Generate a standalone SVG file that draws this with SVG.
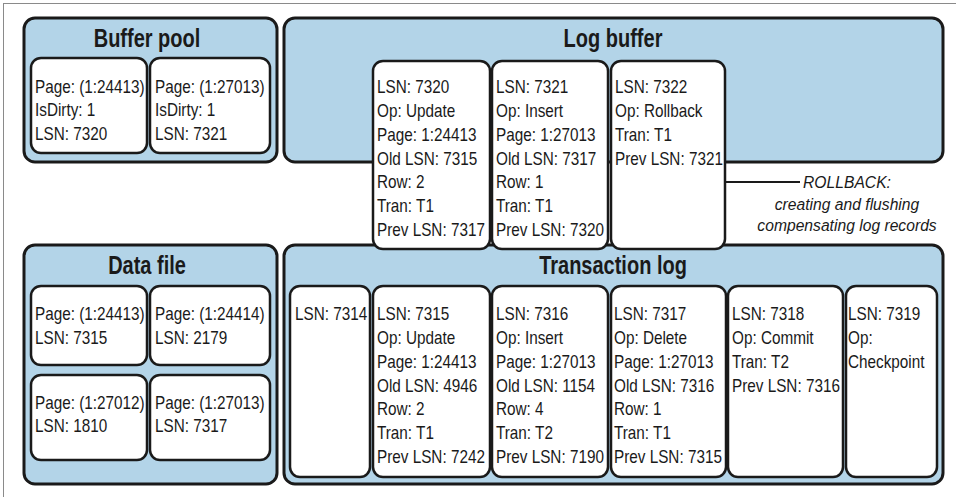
<svg xmlns="http://www.w3.org/2000/svg" width="956" height="497" viewBox="0 0 956 497">
<style>
.frame{fill:none;stroke:#8a8a8a;stroke-width:1}
.panel{fill:#b3d4e8;stroke:#1a1a1a;stroke-width:3}
.card{fill:#ffffff;stroke:#1a1a1a;stroke-width:2.5}
.title{font-family:"Liberation Sans",Arial,sans-serif;font-weight:bold;font-size:25px;fill:#1a1a1a;text-anchor:middle}
.t{font-family:"Liberation Sans",Arial,sans-serif;font-size:18px;fill:#1a1a1a}
.note{font-family:"Liberation Sans",Arial,sans-serif;font-style:italic;font-size:16.5px;fill:#1a1a1a;text-anchor:middle}
.conn{stroke:#1a1a1a;stroke-width:2;fill:none}
</style>
<rect class="frame" x="3.5" y="3.5" width="1000" height="1000"/>

<g id="buffer-pool">
<rect class="panel" x="24" y="18" width="253" height="144" rx="11"/>
<text class="title" transform="translate(147 47) scale(0.8 1)" x="0" y="0">Buffer pool</text>
</g>
<g id="bp-page-24413">
<rect class="card" x="31" y="58" width="116" height="95" rx="10"/>
<text class="t" transform="translate(35 0) scale(0.85 1)"><tspan x="0" y="93">Page: (1:24413)</tspan><tspan x="0" y="116">IsDirty: 1</tspan><tspan x="0" y="140">LSN: 7320</tspan></text>
</g>
<g id="bp-page-27013">
<rect class="card" x="150" y="58" width="120" height="95" rx="10"/>
<text class="t" transform="translate(155 0) scale(0.85 1)"><tspan x="0" y="93">Page: (1:27013)</tspan><tspan x="0" y="116">IsDirty: 1</tspan><tspan x="0" y="140">LSN: 7321</tspan></text>
</g>

<g id="log-buffer">
<rect class="panel" x="284" y="18" width="659" height="144" rx="11"/>
<text class="title" transform="translate(613 47) scale(0.8 1)" x="0" y="0">Log buffer</text>
</g>

<g id="data-file">
<rect class="panel" x="24" y="245" width="253" height="239" rx="11"/>
<text class="title" transform="translate(147 274) scale(0.8 1)" x="0" y="0">Data file</text>
</g>
<g id="df-page-24413">
<rect class="card" x="31" y="286" width="116" height="79" rx="10"/>
<text class="t" transform="translate(35 0) scale(0.85 1)"><tspan x="0" y="320">Page: (1:24413)</tspan><tspan x="0" y="344">LSN: 7315</tspan></text>
</g>
<g id="df-page-24414">
<rect class="card" x="150" y="286" width="120" height="79" rx="10"/>
<text class="t" transform="translate(155 0) scale(0.85 1)"><tspan x="0" y="320">Page: (1:24414)</tspan><tspan x="0" y="344">LSN: 2179</tspan></text>
</g>
<g id="df-page-27012">
<rect class="card" x="31" y="375" width="116" height="85" rx="10"/>
<text class="t" transform="translate(35 0) scale(0.85 1)"><tspan x="0" y="409">Page: (1:27012)</tspan><tspan x="0" y="432">LSN: 1810</tspan></text>
</g>
<g id="df-page-27013">
<rect class="card" x="150" y="375" width="120" height="85" rx="10"/>
<text class="t" transform="translate(155 0) scale(0.85 1)"><tspan x="0" y="409">Page: (1:27013)</tspan><tspan x="0" y="432">LSN: 7317</tspan></text>
</g>

<g id="transaction-log">
<rect class="panel" x="284" y="245" width="659" height="239" rx="11"/>
<text class="title" transform="translate(613 274) scale(0.8 1)" x="0" y="0">Transaction log</text>
</g>

<g id="lb-7320">
<rect class="card" x="373" y="61" width="117" height="188" rx="10"/>
<text class="t" transform="translate(377 0) scale(0.85 1)"><tspan x="0" y="93">LSN: 7320</tspan><tspan x="0" y="117">Op: Update</tspan><tspan x="0" y="141">Page: 1:24413</tspan><tspan x="0" y="165">Old LSN: 7315</tspan><tspan x="0" y="188">Row: 2</tspan><tspan x="0" y="212">Tran: T1</tspan><tspan x="0" y="236">Prev LSN: 7317</tspan></text>
</g>
<g id="lb-7321">
<rect class="card" x="492" y="61" width="116" height="188" rx="10"/>
<text class="t" transform="translate(496 0) scale(0.85 1)"><tspan x="0" y="93">LSN: 7321</tspan><tspan x="0" y="117">Op: Insert</tspan><tspan x="0" y="141">Page: 1:27013</tspan><tspan x="0" y="165">Old LSN: 7317</tspan><tspan x="0" y="188">Row: 1</tspan><tspan x="0" y="212">Tran: T1</tspan><tspan x="0" y="236">Prev LSN: 7320</tspan></text>
</g>
<g id="lb-7322">
<rect class="card" x="611" y="61" width="114" height="188" rx="10"/>
<text class="t" transform="translate(615 0) scale(0.85 1)"><tspan x="0" y="93">LSN: 7322</tspan><tspan x="0" y="117">Op: Rollback</tspan><tspan x="0" y="141">Tran: T1</tspan><tspan x="0" y="165">Prev LSN: 7321</tspan></text>
</g>

<g id="tl-7314">
<rect class="card" x="290" y="286" width="80" height="191" rx="10"/>
<text class="t" transform="translate(295 0) scale(0.85 1)"><tspan x="0" y="320">LSN: 7314</tspan></text>
</g>
<g id="tl-7315">
<rect class="card" x="373" y="286" width="117" height="191" rx="10"/>
<text class="t" transform="translate(377 0) scale(0.85 1)"><tspan x="0" y="320">LSN: 7315</tspan><tspan x="0" y="344">Op: Update</tspan><tspan x="0" y="368">Page: 1:24413</tspan><tspan x="0" y="392">Old LSN: 4946</tspan><tspan x="0" y="415">Row: 2</tspan><tspan x="0" y="439">Tran: T1</tspan><tspan x="0" y="463">Prev LSN: 7242</tspan></text>
</g>
<g id="tl-7316">
<rect class="card" x="492" y="286" width="116" height="191" rx="10"/>
<text class="t" transform="translate(496 0) scale(0.85 1)"><tspan x="0" y="320">LSN: 7316</tspan><tspan x="0" y="344">Op: Insert</tspan><tspan x="0" y="368">Page: 1:27013</tspan><tspan x="0" y="392">Old LSN: 1154</tspan><tspan x="0" y="415">Row: 4</tspan><tspan x="0" y="439">Tran: T2</tspan><tspan x="0" y="463">Prev LSN: 7190</tspan></text>
</g>
<g id="tl-7317">
<rect class="card" x="611" y="286" width="115" height="191" rx="10"/>
<text class="t" transform="translate(614 0) scale(0.85 1)"><tspan x="0" y="320">LSN: 7317</tspan><tspan x="0" y="344">Op: Delete</tspan><tspan x="0" y="368">Page: 1:27013</tspan><tspan x="0" y="392">Old LSN: 7316</tspan><tspan x="0" y="415">Row: 1</tspan><tspan x="0" y="439">Tran: T1</tspan><tspan x="0" y="463">Prev LSN: 7315</tspan></text>
</g>
<g id="tl-7318">
<rect class="card" x="728" y="286" width="115" height="191" rx="10"/>
<text class="t" transform="translate(732 0) scale(0.85 1)"><tspan x="0" y="320">LSN: 7318</tspan><tspan x="0" y="344">Op: Commit</tspan><tspan x="0" y="368">Tran: T2</tspan><tspan x="0" y="392">Prev LSN: 7316</tspan></text>
</g>
<g id="tl-7319">
<rect class="card" x="846" y="286" width="91" height="191" rx="10"/>
<text class="t" transform="translate(848 0) scale(0.85 1)"><tspan x="0" y="320">LSN: 7319</tspan><tspan x="0" y="344">Op:</tspan><tspan x="0" y="368">Checkpoint</tspan></text>
</g>

<g id="connectors">
<line class="conn" x1="726" y1="182" x2="800" y2="182"/>
</g>
<g id="rollback-note">
<text class="note" transform="translate(847 0) scale(0.95 1)"><tspan x="0" y="188">ROLLBACK:</tspan><tspan x="0" y="210">creating and flushing</tspan><tspan x="0" y="231">compensating log records</tspan></text>
</g>
</svg>
